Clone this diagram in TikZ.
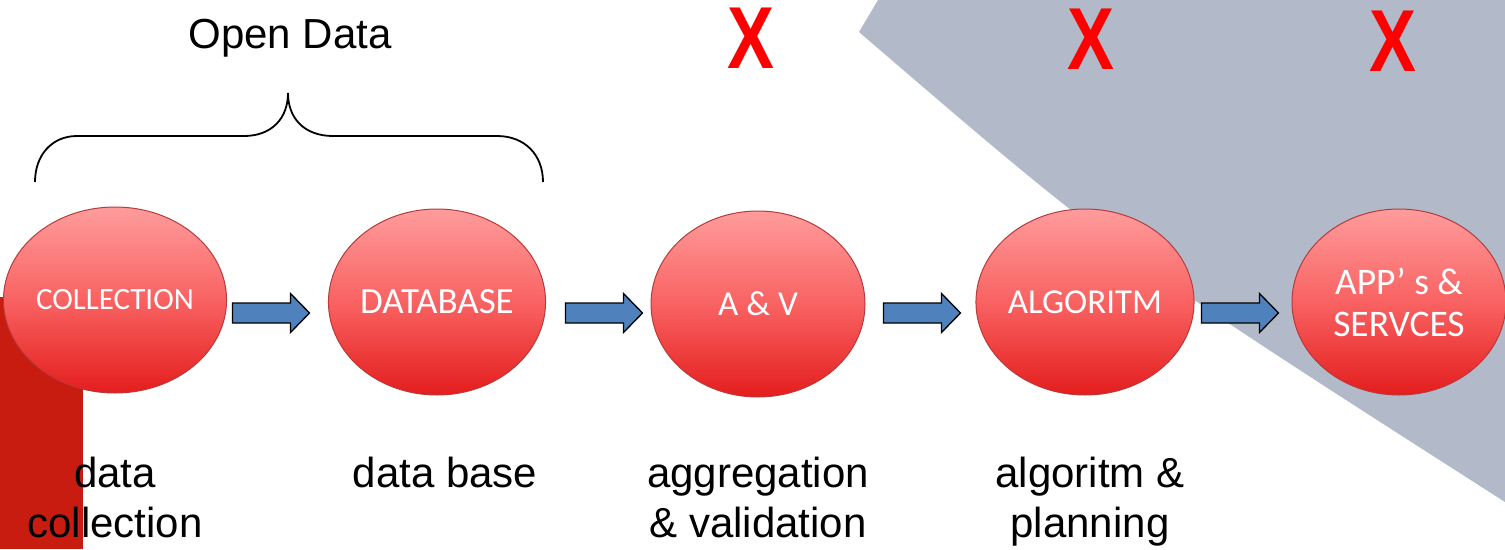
\documentclass[tikz,border=0pt]{standalone}
\usepackage{fontspec}
\setmainfont{Liberation Sans}
\newfontfamily\calib{Carlito}
\usetikzlibrary{shapes.geometric,calc}
\definecolor{graybg}{HTML}{B2BACA}
\definecolor{leftred}{HTML}{C81C10}
\definecolor{bubbletop}{HTML}{FF9C9C}
\definecolor{bubblemid}{HTML}{F96262}
\definecolor{bubblebot}{HTML}{E41D1D}
\definecolor{bubbleedge}{HTML}{B83A3A}
\definecolor{arrowblue}{HTML}{4F81BD}
\definecolor{xred}{HTML}{FF0000}
\begin{document}
\begin{tikzpicture}[x=1pt,y=-1pt,
  bubble/.style={ellipse, draw=bubbleedge, line width=1pt,
    top color=bubbletop, bottom color=bubblebot, middle color=bubblemid,
    inner sep=0pt, text=white, align=center,
    minimum width=214pt, minimum height=186pt},
  bubtext/.style={font=\calib\fontsize{#1}{42}\selectfont},
  blockarrow/.style={draw=black, line width=1.3pt, fill=arrowblue, line join=miter},
  label/.style={font=\fontsize{42}{50}\selectfont, text=black, align=center, inner sep=0pt},
  xmark/.style={font=\fontsize{88}{88}\selectfont\bfseries, text=xred, inner sep=0pt, xscale=0.8, transform shape},
  brace/.style={line width=1.8pt, draw=black}
]
\useasboundingbox (0,0) rectangle (1505,549);
\fill[white] (0,0) rectangle (1505,549);
% background shapes
\fill[graybg] (878,0) -- (859,32) .. controls (1116,253) .. (1505,502) -- (1505,0) -- cycle;
\fill[leftred] (0,297) rectangle (83,549);
% bubbles
\node[bubble, bubtext=31] (c1) at (115,300) {COLLECTION};
\node[bubble, bubtext=37] (c2) at (437,302) {DATABASE};
\node[bubble, bubtext=35] (c3) at (758,304) {A \& V};
\node[bubble, bubtext=35] (c4) at (1085,302) {ALGORITM};
\node[bubble, bubtext=37.5] (c5) at (1399,302) {APP’ s \&\\SERVCES};
% arrows (block arrows between the bubbles)
\coordinate (a1) at (271,313);
\coordinate (a2) at (604,313);
\coordinate (a3) at (922,313);
\coordinate (a4) at (1240,313);
\foreach \a in {a1,a2,a3,a4}{
  \draw[blockarrow] (\a) ++(-38.5,-10) -- ++(58,0) -- ++(0,-9.5) -- ++(19,19.5)
    -- ++(-19,19.5) -- ++(0,-9.5) -- ++(-58,0) -- cycle;
}
% brace
\draw[brace] (35,182) .. controls (35,155) and (52,136) .. (77,136) -- (244,136)
  .. controls (272,136) and (288,118) .. (288,93)
  .. controls (288,118) and (304,136) .. (333,136) -- (497,136)
  .. controls (525,136) and (543,155) .. (543,182);
\node[label, anchor=base] (od) at (290,48) {Open Data};
% X marks
\node[xmark] (x1) at (751,38) {X};
\node[xmark] (x2) at (1091,39) {X};
\node[xmark] (x3) at (1393,41) {X};
% bottom labels
\node[label, anchor=base] (l1) at (115,537) {data\\collection};
\node[label, anchor=base] (l2) at (445,487) {data base};
\node[label, anchor=base] (l3) at (758,537) {aggregation\\\& validation};
\node[label, anchor=base] (l4) at (1090,537) {algoritm \&\\planning};
\end{tikzpicture}
\end{document}
